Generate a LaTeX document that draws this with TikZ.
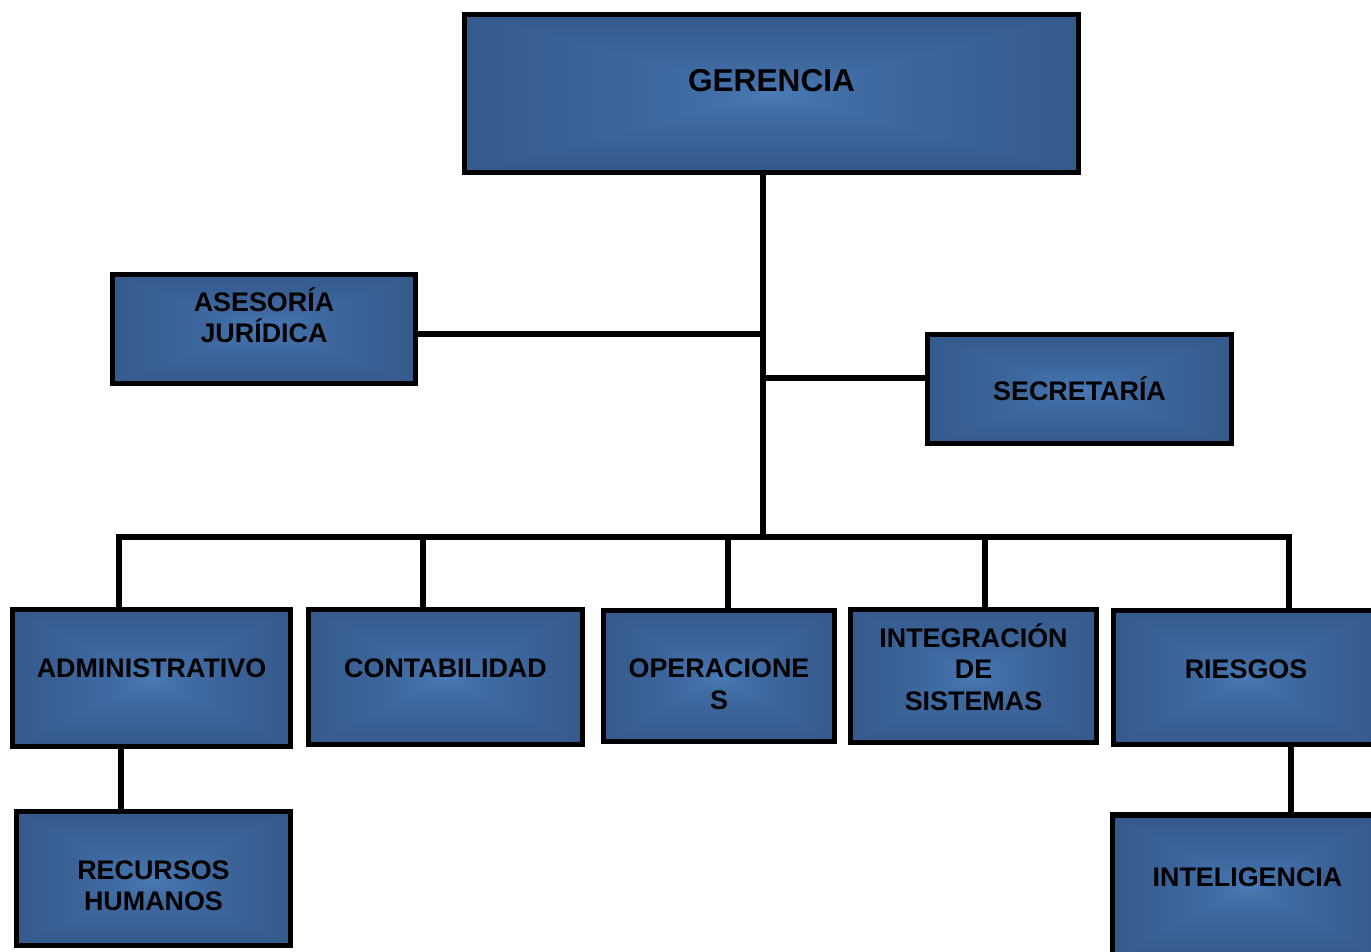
\documentclass[tikz,border=0pt]{standalone}
\usepackage{fontspec}
\setmainfont{Liberation Sans}
\definecolor{boxedge}{RGB}{0, 0, 0}
% rectangular glow: light in the middle, darker towards every side
\pgfdeclarefunctionalshading{boxglow}{\pgfpoint{-50bp}{-50bp}}{\pgfpoint{50bp}{50bp}}{}{
    abs exch abs 2 copy lt {exch} if pop 50 div sqrt
    dup dup
    -0.27 mul 0.74 add 3 1 roll
    -0.21 mul 0.50 add 3 1 roll
    -0.13 mul 0.30 add 3 1 roll
}

\begin{document}
\begin{tikzpicture}[x=0.02cm, y=-0.02cm]
\tikzset{
    unit/.style={draw=boxedge, line width=3.3pt, shade, shading=boxglow, align=center,
        inner sep=2pt, font=\bfseries\fontsize{15.3}{18}\selectfont},
    lift/.style={text depth=#1},
    sink/.style={text height=#1},
    wire/.style={draw=boxedge, line width=3.3pt}
}
\useasboundingbox (0, 0) rectangle (1371, 952);

\node[unit, lift=0.52cm, minimum width=12.28cm, minimum height=3.16cm, font=\bfseries\fontsize{18}{21}\selectfont] (ger) at (771.5, 93.5) {GERENCIA};

\node[unit, lift=0.56cm, minimum width=6.06cm, minimum height=2.18cm] (ase) at (264, 329) {ASESORÍA\\JURÍDICA};
\node[unit, minimum width=6.08cm, minimum height=2.18cm] (sec) at (1079.5, 389) {SECRETARÍA};

\node[unit, lift=0.4cm, minimum width=5.56cm, minimum height=2.74cm] (adm) at (151.5, 678) {ADMINISTRATIVO};
\node[unit, lift=0.36cm, minimum width=5.48cm, minimum height=2.70cm] (con) at (445.5, 677) {CONTABILIDAD};
\node[unit, sink=1.34cm, minimum width=4.62cm, minimum height=2.62cm] (ope) at (719, 676) {OPERACIONE\\S};
\node[unit, lift=0.36cm, minimum width=4.92cm, minimum height=2.66cm] (int) at (973.5, 676) {INTEGRACIÓN\\DE\\SISTEMAS};
\node[unit, lift=0.34cm, minimum width=5.30cm, minimum height=2.68cm] (rie) at (1246, 677.5) {RIESGOS};

\node[unit, sink=1.30cm, minimum width=5.48cm, minimum height=2.68cm] (rrh) at (153.5, 878.5) {RECURSOS\\HUMANOS};
\node[unit, lift=0.36cm, minimum width=5.40cm, minimum height=2.84cm] (intel) at (1247.5, 886) {INTELIGENCIA};

% trunk and side branches
\coordinate (mid) at (763, 537);
\coordinate (ase-j) at (763, 334);
\coordinate (sec-j) at (763, 378);
\draw[wire] (ger.south -| mid) -- (mid);
\draw[wire] (ase-j) -- (ase-j -| ase.east);
\draw[wire] (sec-j) -- (sec-j -| sec.west);

% bus to the departments
\coordinate (bus-l) at (119, 537);
\coordinate (bus-r) at (1289, 537);
\draw[wire] (adm.north -| bus-l) -- (bus-l) -- (bus-r) -- (rie.north -| bus-r);
\foreach \dx/\dept in {423/con, 728/ope, 985/int}
    \draw[wire] (\dx, 537) -- (\dx, 537 |- \dept.north);

\coordinate (adm-x) at (121, 0);
\coordinate (rie-x) at (1291, 0);
\draw[wire] (adm.south -| adm-x) -- (rrh.north -| adm-x);
\draw[wire] (rie.south -| rie-x) -- (intel.north -| rie-x);
\end{tikzpicture}
\end{document}
